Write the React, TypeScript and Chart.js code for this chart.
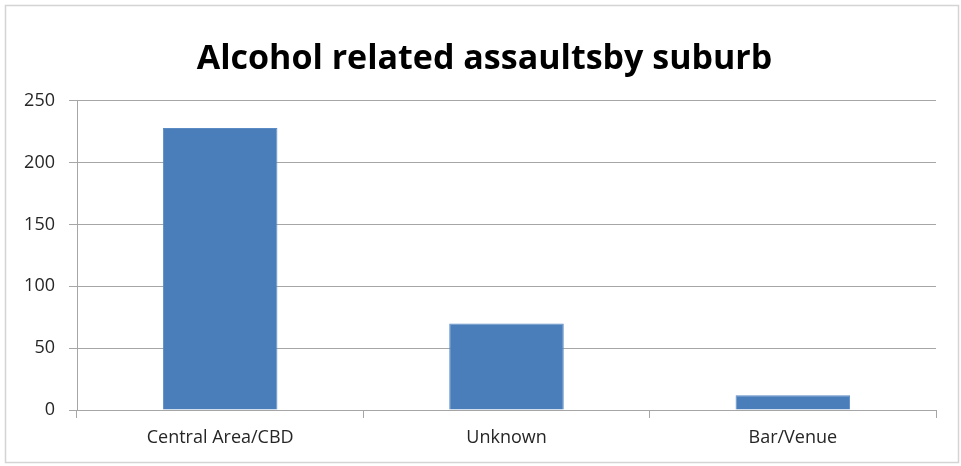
import React, { useEffect, useRef } from "react";
import { Chart, registerables } from "chart.js";

Chart.register(...registerables);

// Chart content
const chartTitle = "Alcohol related assaultsby suburb";
const suburbs = ["Central Area/CBD", "Unknown", "Bar/Venue"];
const assaults = [228, 70, 12];
const yMin = 0;
const yMax = 250;
const yStep = 50;

const FONT = "'Open Sans', Lato, sans-serif";
const GRID = "#a6a6a6";

// Light grey frame around the whole chart, on a white ground
const framePlugin = {
  id: "frame",
  beforeDraw(chart: Chart) {
    const { ctx, width, height } = chart;
    ctx.save();
    ctx.fillStyle = "#ffffff";
    ctx.fillRect(0, 0, width, height);
    ctx.strokeStyle = "#d4d4d4";
    ctx.lineWidth = 1.5;
    ctx.strokeRect(5.5, 5.5, width - 8, height - 9);
    ctx.restore();
  },
};

// Centre the title over the whole frame rather than over the padded layout box
const titleCentrePlugin = {
  id: "titleCentre",
  afterLayout(chart: Chart) {
    const block = (chart as any).titleBlock;
    if (!block) return;
    const shift = (chart.width - (block.left + block.right)) / 2 + 4;
    block.left += shift;
    block.right += shift;
  },
};

export default function App() {
  const canvasRef = useRef<HTMLCanvasElement | null>(null);

  useEffect(() => {
    document.body.style.margin = "0";
    const canvas = canvasRef.current;
    if (!canvas) return;
    const chart = new Chart(canvas, {
      type: "bar",
      data: {
        labels: suburbs,
        datasets: [
          {
            data: assaults,
            backgroundColor: "#4a7ebb",
            borderColor: "#5b8bc4",
            borderWidth: 1,
            barPercentage: 0.4,
            categoryPercentage: 1,
          },
        ],
      },
      plugins: [framePlugin, titleCentrePlugin],
      options: {
        animation: false,
        responsive: false,
        devicePixelRatio: 1,
        layout: { padding: { left: 0, right: 25, top: 0, bottom: 0 } },
        plugins: {
          legend: { display: false },
          tooltip: { enabled: false },
          title: {
            display: true,
            text: chartTitle,
            color: "#000000",
            font: { family: FONT, size: 34, weight: "bold", lineHeight: 1.2 },
            padding: { top: 39, bottom: 21 },
          },
        },
        scales: {
          x: {
            offset: true,
            grid: {
              offset: true,
              drawOnChartArea: false,
              drawTicks: true,
              tickLength: 8,
              color: GRID,
            },
            border: { color: GRID, width: 1 },
            ticks: {
              color: "#262626",
              padding: 9,
              font: { family: FONT, size: 18 },
            },
            afterFit(scale: any) {
              scale.height = 56;
            },
          },
          y: {
            min: yMin,
            max: yMax,
            grid: {
              color: GRID,
              tickLength: 8,
              drawTicks: true,
            },
            border: { color: GRID, width: 1 },
            ticks: {
              stepSize: yStep,
              color: "#262626",
              padding: 14,
              font: { family: FONT, size: 18 },
            },
            afterFit(scale: any) {
              scale.width = 77;
            },
          },
        },
      },
    });
    return () => chart.destroy();
  }, []);

  return (
    <div style={{ width: 961, height: 466 }}>
      <canvas ref={canvasRef} width={961} height={466} style={{ display: "block" }} />
    </div>
  );
}
